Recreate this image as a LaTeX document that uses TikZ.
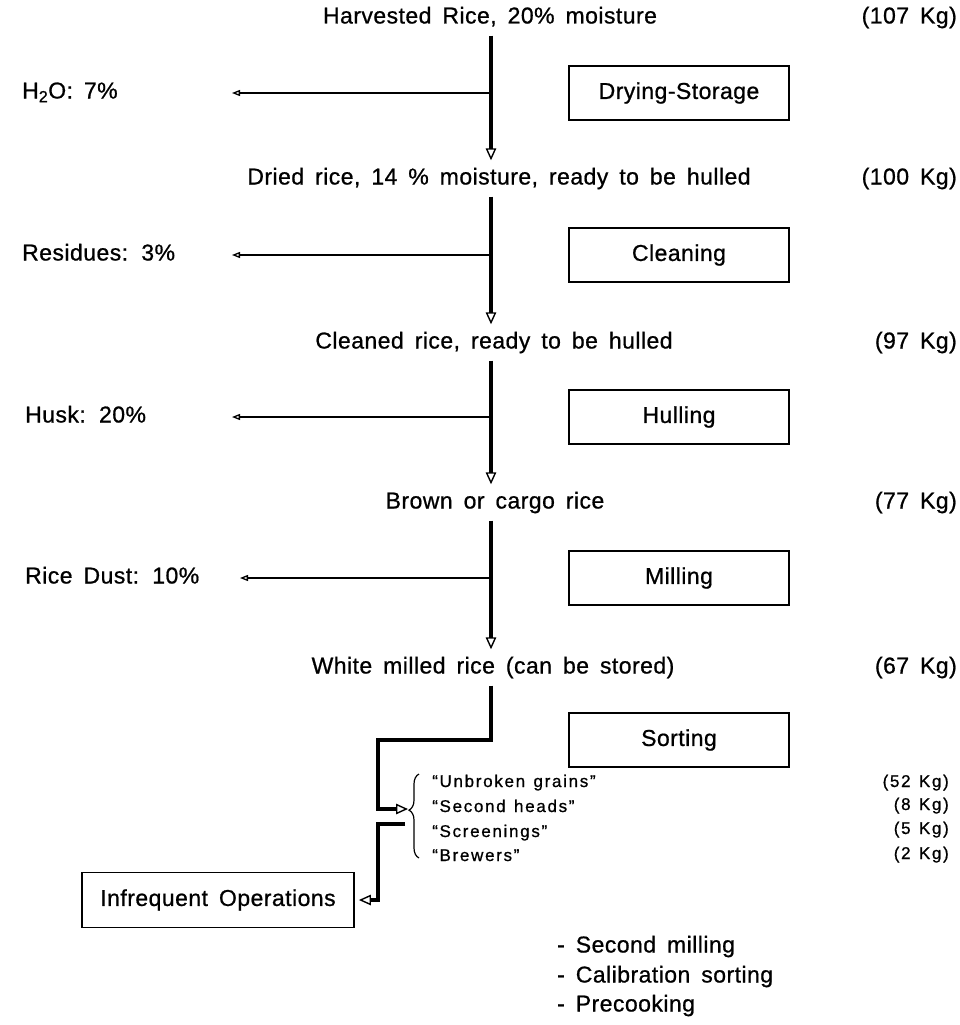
\documentclass[tikz,border=0pt]{standalone}
\usepackage{fontspec}
\setmainfont{Liberation Sans}[LetterSpace=2,WordSpace=1.6,FakeBold=0.8]
\newfontfamily\smallfam{Liberation Sans}[LetterSpace=10,WordSpace=1.3,FakeBold=0.8]
\usetikzlibrary{arrows.meta,decorations.pathreplacing}

\tikzset{
  lbl/.style={font=\fontsize{23}{26}\selectfont, inner sep=0pt, text height=16pt, text depth=5pt},
  sml/.style={font=\smallfam\fontsize{17}{19}\selectfont, inner sep=0pt, text height=12pt, text depth=4pt},
  procbox/.style={draw, line width=1.8pt, minimum width=220pt, minimum height=54pt, inner sep=0pt,
                  font=\fontsize{23}{26}\selectfont},
  flowtip/.style={-{Triangle[open,length=12pt,width=10.5pt,line width=1.4pt]}},
  flow/.style={line width=3.4pt, shorten <=7pt, shorten >=8pt, flowtip},
  thickflow/.style={line width=3.4pt, flowtip},
  loss/.style={line width=1.8pt, -{Triangle[open,length=8pt,width=6pt,line width=1.3pt]}},
}

\begin{document}
\begin{tikzpicture}[x=1pt,y=-1pt]
\useasboundingbox (0,0) rectangle (960,1025);

\coordinate (spine) at (491,0);

% main stream of products
\node[lbl] (t1) at (490,18)  {Harvested Rice, 20\% moisture};
\node[lbl] (t2) at (499,179) {Dried rice, 14 \% moisture, ready to be hulled};
\node[lbl] (t3) at (494,343) {Cleaned rice, ready to be hulled};
\node[lbl] (t4) at (495,503) {Brown or cargo rice};
\node[lbl] (t5) at (493,668) {White milled rice (can be stored)};

% masses
\node[lbl, anchor=east] (k1) at (957,18)  {(107 Kg)};
\node[lbl, anchor=east] (k2) at (957,179) {(100 Kg)};
\node[lbl, anchor=east] (k3) at (957,343) {(97 Kg)};
\node[lbl, anchor=east] (k4) at (957,503) {(77 Kg)};
\node[lbl, anchor=east] (k5) at (957,668) {(67 Kg)};

% operations
\node[procbox] (b1) at (679,93)  {Drying-Storage};
\node[procbox] (b2) at (679,255) {Cleaning};
\node[procbox] (b3) at (679,417) {Hulling};
\node[procbox] (b4) at (679,578) {Milling};
\node[procbox] (b5) at (679,740) {Sorting};

% losses
\node[lbl, anchor=west] (w1) at (22,93)  {H\textsubscript{2}O: 7\%};
\node[lbl, anchor=west] (w2) at (22,255) {Residues: 3\%};
\node[lbl, anchor=west] (w3) at (25,417) {Husk: 20\%};
\node[lbl, anchor=west] (w4) at (25,578) {Rice Dust: 10\%};
\coordinate (e1) at (232,93);
\coordinate (e2) at (232,255);
\coordinate (e3) at (232,417);
\coordinate (e4) at (240,578);

\draw[flow] (spine |- t1.south) -- (spine |- t2.north);
\draw[flow] (spine |- t2.south) -- (spine |- t3.north);
\draw[flow] (spine |- t3.south) -- (spine |- t4.north);
\draw[flow] (spine |- t4.south) -- (spine |- t5.north);

\draw[loss] (spine |- b1.west) -- (e1);
\draw[loss] (spine |- b2.west) -- (e2);
\draw[loss] (spine |- b3.west) -- (e3);
\draw[loss] (spine |- b4.west) -- (e4);

% sorting into grades
\coordinate (jl) at (378,740);
\coordinate (btip) at (408,809);
\draw[thickflow, shorten <=7pt] (spine |- t5.south) |- (jl) |- (btip);
\draw[decorate, decoration={brace, amplitude=10pt, aspect=0.57}, line width=1.2pt]
  (419,858) -- (419,774);

\node[sml, anchor=west] (g1) at (432,783) {“Unbroken grains”};
\node[sml, anchor=west] (g2) at (432,808) {“Second heads”};
\node[sml, anchor=west] (g3) at (432,833) {“Screenings”};
\node[sml, anchor=west] (g4) at (432,857) {“Brewers”};
\node[sml, anchor=east] (m1) at (949,783) {(52 Kg)};
\node[sml, anchor=east] (m2) at (949,806) {(8 Kg)};
\node[sml, anchor=east] (m3) at (949,830) {(5 Kg)};
\node[sml, anchor=east] (m4) at (949,855) {(2 Kg)};

% occasional further treatment
\node[procbox, minimum width=272pt, minimum height=55pt] (io) at (218,900) {Infrequent Operations};
\coordinate (so) at (405,824);
\coordinate (jd) at (378,824);
\draw[thickflow, shorten >=4pt] (so) -- (jd) |- (io.east);

\node[lbl, anchor=west] (l1) at (557,947)  {- Second milling};
\node[lbl, anchor=west] (l2) at (557,977)  {- Calibration sorting};
\node[lbl, anchor=west] (l3) at (557,1006) {- Precooking};
\end{tikzpicture}
\end{document}
